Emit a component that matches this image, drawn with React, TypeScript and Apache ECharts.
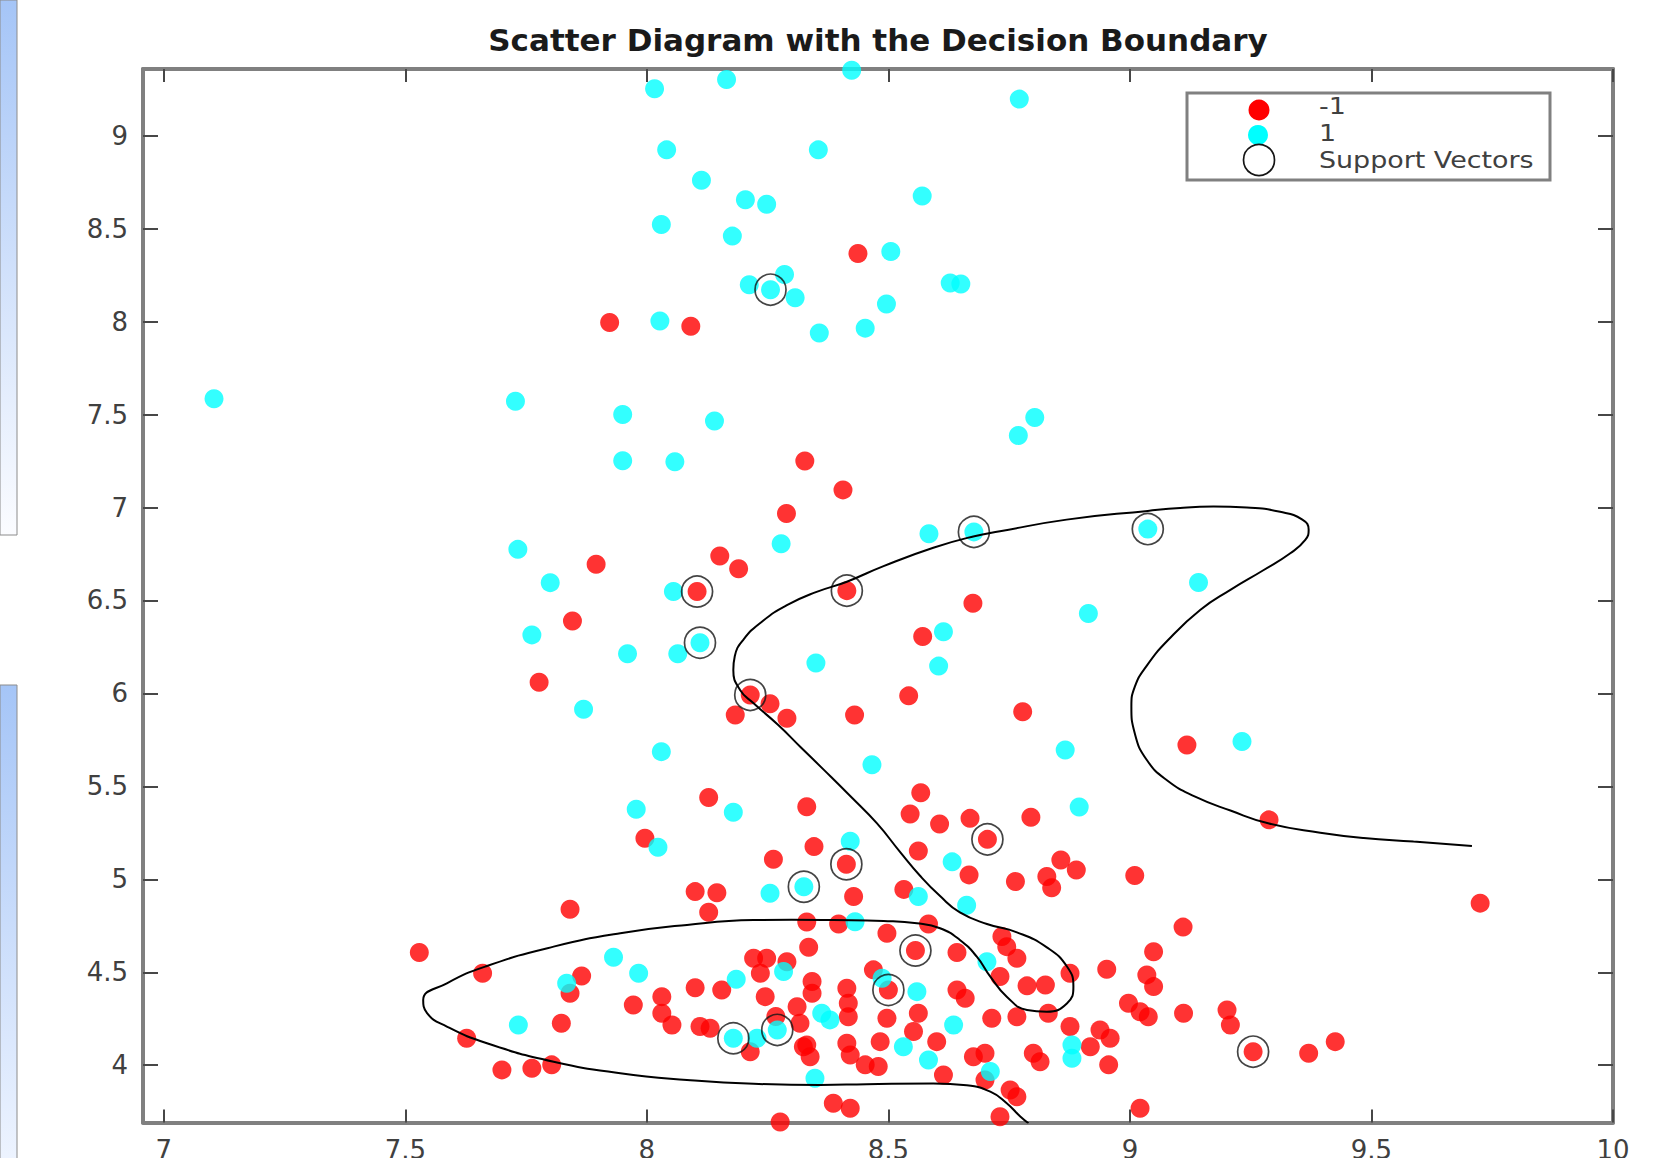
import React, { useEffect, useRef } from "react";
import * as echarts from "echarts";

const titleText = "Scatter Diagram with the Decision Boundary";
const legendLabels = ["-1", "1", "Support Vectors"];
const xTicks = [7, 7.5, 8, 8.5, 9, 9.5, 10];
const yTicks = [4, 4.5, 5, 5.5, 6, 6.5, 7, 7.5, 8, 8.5, 9];
const xRange = [6.957, 10];
const yRange = [3.692, 9.359];

// class -1 (red)
const negClass: number[][] = [
  [7.923, 7.995], [8.091, 7.975], [8.437, 8.367], [8.327, 7.25], [8.289, 6.968], [8.406, 7.095],
  [7.895, 6.695], [8.151, 6.739], [8.19, 6.671], [8.104, 6.548], [7.846, 6.39], [7.777, 6.06],
  [8.214, 5.992], [8.255, 5.944], [8.183, 5.884], [8.29, 5.867], [8.128, 5.44], [8.331, 5.39],
  [8.414, 6.553], [8.675, 6.485], [8.571, 6.306], [8.542, 5.987], [8.43, 5.884], [8.778, 5.902],
  [9.118, 5.723], [8.567, 5.466], [8.545, 5.352], [8.606, 5.298], [8.669, 5.328], [8.795, 5.334],
  [8.705, 5.215], [9.288, 5.32], [8.413, 5.081], [8.346, 5.176], [8.562, 5.152], [8.667, 5.024],
  [8.763, 4.988], [8.828, 5.015], [8.838, 4.955], [8.857, 5.104], [8.889, 5.05], [9.01, 5.021],
  [9.725, 4.872], [8.532, 4.946], [8.428, 4.908], [8.331, 4.77], [8.397, 4.76], [8.583, 4.76],
  [9.11, 4.743], [8.335, 4.635], [8.497, 4.71], [8.556, 4.617], [8.642, 4.606], [8.735, 4.692],
  [8.745, 4.638], [8.766, 4.576], [9.049, 4.611], [8.952, 4.516], [8.876, 4.495], [9.035, 4.486],
  [9.049, 4.423], [8.342, 4.45], [8.469, 4.513], [8.5, 4.405], [8.731, 4.477], [8.787, 4.427],
  [8.825, 4.432], [8.642, 4.405], [8.659, 4.36], [8.414, 4.414], [8.417, 4.333], [8.342, 4.387],
  [8.997, 4.333], [9.021, 4.288], [9.038, 4.261], [9.111, 4.28], [8.417, 4.261], [8.497, 4.253],
  [8.562, 4.28], [8.714, 4.253], [8.766, 4.261], [8.831, 4.28], [8.876, 4.208], [8.938, 4.19],
  [8.959, 4.145], [8.331, 4.109], [8.414, 4.118], [8.483, 4.127], [8.552, 4.181], [8.6, 4.127],
  [8.676, 4.046], [8.7, 4.065], [8.8, 4.065], [8.814, 4.019], [8.918, 4.1], [8.956, 4.002],
  [8.452, 4.002], [8.479, 3.993], [8.421, 4.055], [8.614, 3.948], [8.752, 3.867], [8.766, 3.831],
  [8.386, 3.796], [8.421, 3.769], [8.731, 3.723], [9.021, 3.769], [8.7, 3.921], [9.201, 4.297],
  [9.208, 4.217], [9.255, 4.073], [9.37, 4.065], [9.425, 4.127], [7.996, 5.221], [8.262, 5.108],
  [8.1, 4.934], [8.145, 4.928], [8.128, 4.823], [7.841, 4.839], [7.529, 4.606], [8.221, 4.576],
  [8.248, 4.576], [8.29, 4.557], [8.235, 4.495], [7.66, 4.495], [7.865, 4.48], [7.841, 4.387],
  [8.1, 4.417], [8.155, 4.405], [8.245, 4.369], [8.031, 4.369], [7.972, 4.324], [8.311, 4.315],
  [8.031, 4.28], [8.052, 4.217], [7.823, 4.226], [8.11, 4.208], [8.131, 4.199], [8.214, 4.073],
  [8.317, 4.226], [8.324, 4.1], [8.338, 4.046], [7.627, 4.145], [7.7, 3.975], [7.762, 3.984],
  [7.803, 4.002], [8.276, 3.695], [8.267, 4.262],
];

// class 1 (cyan)
const posClass: number[][] = [
  [8.016, 9.253], [8.165, 9.302], [8.041, 8.924], [8.355, 8.924], [8.113, 8.761], [8.204, 8.656],
  [8.248, 8.632], [8.03, 8.522], [8.177, 8.46], [8.285, 8.254], [8.212, 8.198], [8.256, 8.172],
  [8.307, 8.128], [8.027, 8.003], [8.357, 7.939], [7.104, 7.585], [7.728, 7.572], [7.95, 7.5],
  [8.14, 7.466], [7.95, 7.252], [8.058, 7.246], [7.733, 6.775], [8.278, 6.805], [8.424, 9.352],
  [8.771, 9.197], [8.57, 8.676], [8.505, 8.377], [8.628, 8.208], [8.65, 8.202], [8.496, 8.095],
  [8.452, 7.965], [8.803, 7.484], [8.769, 7.388], [8.584, 6.859], [8.677, 6.869], [9.037, 6.884],
  [9.142, 6.597], [8.914, 6.43], [8.614, 6.332], [8.604, 6.147], [8.35, 6.164], [8.866, 5.696],
  [8.466, 5.616], [9.232, 5.741], [7.8, 6.596], [8.055, 6.548], [7.762, 6.315], [8.11, 6.273],
  [7.96, 6.213], [8.064, 6.213], [7.869, 5.915], [8.03, 5.687], [7.978, 5.377], [8.179, 5.361],
  [8.023, 5.173], [8.895, 5.389], [8.421, 5.205], [8.632, 5.094], [8.325, 4.96], [8.255, 4.925],
  [8.562, 4.908], [8.662, 4.861], [8.431, 4.772], [8.704, 4.557], [8.487, 4.468], [8.559, 4.396],
  [8.362, 4.28], [8.379, 4.244], [8.635, 4.217], [8.531, 4.1], [8.88, 4.109], [8.88, 4.038],
  [8.583, 4.028], [8.348, 3.93], [8.711, 3.966], [7.931, 4.581], [8.283, 4.504], [7.983, 4.495],
  [7.834, 4.441], [8.185, 4.463], [7.734, 4.217], [8.179, 4.145], [8.27, 4.19], [8.228, 4.145],
];

const supportVectors: number[][] = [
  [8.256, 8.172], [8.677, 6.869], [9.037, 6.884], [8.104, 6.548], [8.414, 6.553], [8.11, 6.273],
  [8.214, 5.992], [8.705, 5.215], [8.413, 5.081], [8.325, 4.96], [8.556, 4.617], [8.5, 4.405],
  [8.179, 4.145], [8.27, 4.19], [9.255, 4.073],
];

const boundary: number[][] = [
  [9.708, 5.18], [9.587, 5.203], [9.484, 5.222], [9.394, 5.251], [9.288, 5.3], [9.208, 5.37],
  [9.135, 5.445], [9.078, 5.53], [9.035, 5.642], [9.01, 5.786], [9.003, 5.929], [9.01, 6.035],
  [9.035, 6.15], [9.08, 6.29], [9.146, 6.45], [9.208, 6.557], [9.277, 6.664], [9.332, 6.754],
  [9.363, 6.826], [9.37, 6.88], [9.357, 6.935], [9.311, 6.977], [9.242, 7.0], [9.173, 7.005],
  [9.104, 6.998], [9.037, 6.982], [8.869, 6.935], [8.731, 6.872], [8.678, 6.846], [8.593, 6.784],
  [8.49, 6.685], [8.414, 6.601], [8.35, 6.545], [8.29, 6.475], [8.24, 6.39], [8.2, 6.29],
  [8.182, 6.2], [8.179, 6.126], [8.193, 6.019], [8.221, 5.947], [8.272, 5.83], [8.318, 5.712],
  [8.366, 5.59], [8.421, 5.448], [8.476, 5.302], [8.524, 5.148], [8.566, 5.018], [8.607, 4.91],
  [8.648, 4.822], [8.704, 4.76], [8.766, 4.715], [8.828, 4.634], [8.87, 4.53], [8.883, 4.423],
  [8.87, 4.334], [8.828, 4.288], [8.787, 4.297], [8.745, 4.369], [8.711, 4.477], [8.683, 4.584],
  [8.648, 4.674], [8.607, 4.737], [8.559, 4.764], [8.49, 4.776], [8.386, 4.781], [8.3, 4.783],
  [8.221, 4.781], [8.083, 4.755], [7.945, 4.71], [7.807, 4.638], [7.669, 4.534], [7.586, 4.441],
  [7.537, 4.351], [7.545, 4.28], [7.586, 4.208], [7.669, 4.118], [7.807, 4.019], [7.945, 3.957],
  [8.083, 3.921], [8.221, 3.9], [8.359, 3.894], [8.455, 3.898], [8.593, 3.902], [8.662, 3.892],
  [8.711, 3.858], [8.745, 3.796], [8.773, 3.724], [8.79, 3.688],
];

const AXIS_GRAY = "#808080";
const TICK_COLOR = "#474747";
const LABEL_COLOR = "#404040";
const LABEL_FONT = "DejaVu Sans";

export default function App() {
  const ref = useRef<HTMLDivElement>(null);

  useEffect(() => {
    if (!ref.current) return;
    const chart = echarts.init(ref.current, undefined, { renderer: "svg" });

    const baseX = {
      type: "value",
      min: xRange[0],
      max: xRange[1],
      splitLine: { show: false },
      axisLine: { show: true, onZero: false, lineStyle: { color: AXIS_GRAY, width: 4 } },
    };
    const baseY = {
      type: "value",
      min: yRange[0],
      max: yRange[1],
      splitLine: { show: false },
      axisLine: { show: true, onZero: false, lineStyle: { color: AXIS_GRAY, width: 4 } },
    };
    const tickStyle = { color: TICK_COLOR, width: 2 };

    const leftPanelGrad1 = new echarts.graphic.LinearGradient(0, 0, 0, 1, [
      { offset: 0, color: "#a5c5f7" },
      { offset: 1, color: "#fbfcff" },
    ]);
    const leftPanelGrad2 = new echarts.graphic.LinearGradient(0, 0, 0, 1, [
      { offset: 0, color: "#a5c5f7" },
      { offset: 1, color: "#eef4ff" },
    ]);

    chart.setOption({
      animation: false,
      backgroundColor: "#ffffff",
      grid: { left: 143, right: 53, top: 69, bottom: 35.5, containLabel: false, outerBoundsMode: "none" },
      xAxis: [
        {
          ...baseX,
          position: "bottom",
          axisTick: { show: true, inside: true, length: 13, customValues: xTicks, lineStyle: tickStyle },
          axisLabel: {
            show: true,
            customValues: xTicks,
            margin: 14,
            color: LABEL_COLOR,
            fontFamily: LABEL_FONT,
            fontSize: 26,
          },
        },
        {
          ...baseX,
          position: "top",
          axisTick: { show: true, inside: true, length: 13, customValues: xTicks, lineStyle: tickStyle },
          axisLabel: { show: false },
        },
      ],
      yAxis: [
        {
          ...baseY,
          position: "left",
          axisTick: { show: true, inside: true, length: 15, customValues: yTicks, lineStyle: tickStyle },
          axisLabel: {
            show: true,
            customValues: yTicks,
            margin: 15,
            color: LABEL_COLOR,
            fontFamily: LABEL_FONT,
            fontSize: 26,
          },
        },
        {
          ...baseY,
          position: "right",
          axisTick: { show: true, inside: true, length: 15, customValues: yTicks, lineStyle: tickStyle },
          axisLabel: { show: false },
        },
      ],
      series: [
        {
          name: legendLabels[0],
          type: "scatter",
          data: negClass,
          symbol: "circle",
          symbolSize: 19,
          clip: false,
          itemStyle: { color: "#ff0000" },
          silent: true,
          z: 2,
        },
        {
          name: legendLabels[1],
          type: "scatter",
          data: posClass,
          symbol: "circle",
          symbolSize: 19,
          clip: false,
          itemStyle: { color: "#00ffff" },
          silent: true,
          z: 3,
        },
        {
          name: legendLabels[2],
          type: "scatter",
          data: supportVectors,
          symbol: "circle",
          symbolSize: 31,
          clip: false,
          itemStyle: { color: "rgba(0,0,0,0)", borderColor: "#151515", borderWidth: 1.7 },
          silent: true,
          z: 4,
        },
        {
          name: "boundary",
          type: "line",
          data: boundary,
          showSymbol: false,
          symbol: "none",
          smooth: 0.5,
          lineStyle: { color: "#000000", width: 2 },
          silent: true,
          z: 5,
        },
      ],
      graphic: [
        {
          type: "rect",
          shape: { x: 0, y: 0, width: 17, height: 535 },
          style: { fill: leftPanelGrad1, stroke: "#8c8c8c", lineWidth: 1 },
          silent: true,
        },
        {
          type: "rect",
          shape: { x: 0, y: 685, width: 17, height: 480 },
          style: { fill: leftPanelGrad2, stroke: "#8c8c8c", lineWidth: 1 },
          silent: true,
        },
        {
          type: "text",
          x: 878,
          y: 40,
          style: {
            text: titleText,
            font: 'bold 31px "DejaVu Sans"',
            fill: "#1a1a1a",
            textAlign: "center",
            textVerticalAlign: "middle",
          },
          silent: true,
        },
        {
          type: "rect",
          shape: { x: 1187, y: 93, width: 363, height: 87 },
          style: { fill: "#ffffff", stroke: AXIS_GRAY, lineWidth: 3 },
          z: 100,
          silent: true,
        },
        {
          type: "circle",
          shape: { cx: 1259, cy: 110, r: 10.5 },
          style: { fill: "#ff0000" },
          z: 101,
          silent: true,
        },
        {
          type: "circle",
          shape: { cx: 1258, cy: 135, r: 10 },
          style: { fill: "#00ffff" },
          z: 101,
          silent: true,
        },
        {
          type: "circle",
          shape: { cx: 1259, cy: 160, r: 15.5 },
          style: { fill: "none", stroke: "#151515", lineWidth: 1.7 },
          z: 101,
          silent: true,
        },
        ...legendLabels.map((t, i) => ({
          type: "text",
          x: 1319,
          y: [106, 133, 160][i],
          scaleX: 1.17,
          z: 101,
          silent: true,
          style: {
            text: t,
            font: '23px "DejaVu Sans"',
            lineHeight: 23,
            fill: LABEL_COLOR,
            textAlign: "left",
            textVerticalAlign: "middle",
          },
        })),
      ],
    });

    return () => chart.dispose();
  }, []);

  return (
    <div
      ref={ref}
      style={{ position: "fixed", left: 0, top: 0, width: 1666, height: 1158, background: "#ffffff" }}
    />
  );
}
